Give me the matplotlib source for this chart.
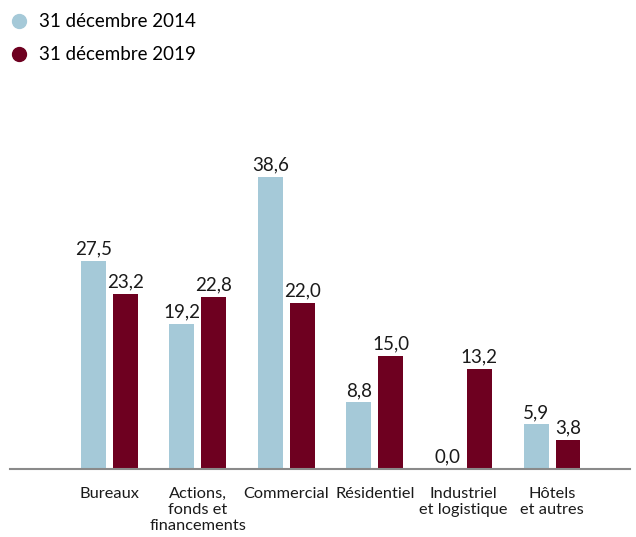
import matplotlib
matplotlib.use("Agg")
import matplotlib.pyplot as plt
from matplotlib.lines import Line2D
import numpy as np

categories = ["Bureaux", "Actions,\nfonds et\nfinancements", "Commercial", "Résidentiel",
              "Industriel\net logistique", "Hôtels\net autres"]
series_2014 = [27.5, 19.2, 38.6, 8.8, 0.0, 5.9]
series_2019 = [23.2, 22.8, 22.0, 15.0, 13.2, 3.8]
labels = ["31 décembre 2014", "31 décembre 2019"]
c14 = "#A5C9D8"
c19 = "#6E0020"

plt.rcParams['font.family'] = ['Lato', 'DejaVu Sans']

fig = plt.figure(figsize=(6.36, 5.37), dpi=100)
ax = fig.add_axes([10/636, 68/537, 620/636, 369/537])

x = np.arange(len(categories))
w = 0.282
off = 0.18
b1 = ax.bar(x - off, series_2014, w, color=c14)
b2 = ax.bar(x + off, series_2019, w, color=c19)

def fmt(v):
    return f"{v:.1f}".replace(".", ",")

for bars, vals in ((b1, series_2014), (b2, series_2019)):
    for b, v in zip(bars, vals):
        ax.text(b.get_x() + b.get_width()/2, v + 0.45, fmt(v), ha="center", va="bottom",
                fontsize=13.5, color="#1a1a1a")

ax.set_xlim(-1.12, 5.88)
ax.set_ylim(0, 48.8)
ax.set_yticks([])
ax.set_xticks(x)
ax.set_xticklabels(categories, fontsize=11.8, color="#1a1a1a", va="top")
for t in ax.get_xticklabels():
    t.set_linespacing(1.18)
ax.tick_params(axis="x", length=0, pad=13)
for s in ["top", "right", "left"]:
    ax.spines[s].set_visible(False)
ax.spines["bottom"].set_color("#8a8a8a")
ax.spines["bottom"].set_linewidth(1.5)

handles = [Line2D([], [], marker="o", linestyle="", markersize=10, color=c) for c in (c14, c19)]
fig.legend(handles, labels, loc="upper left", bbox_to_anchor=(-0.005, 1.0), frameon=False,
           fontsize=13.5, handletextpad=0.55, labelspacing=0.85, borderaxespad=0.3,
           handlelength=1.0, borderpad=0.4)

fig.savefig("out.png", dpi=100)
